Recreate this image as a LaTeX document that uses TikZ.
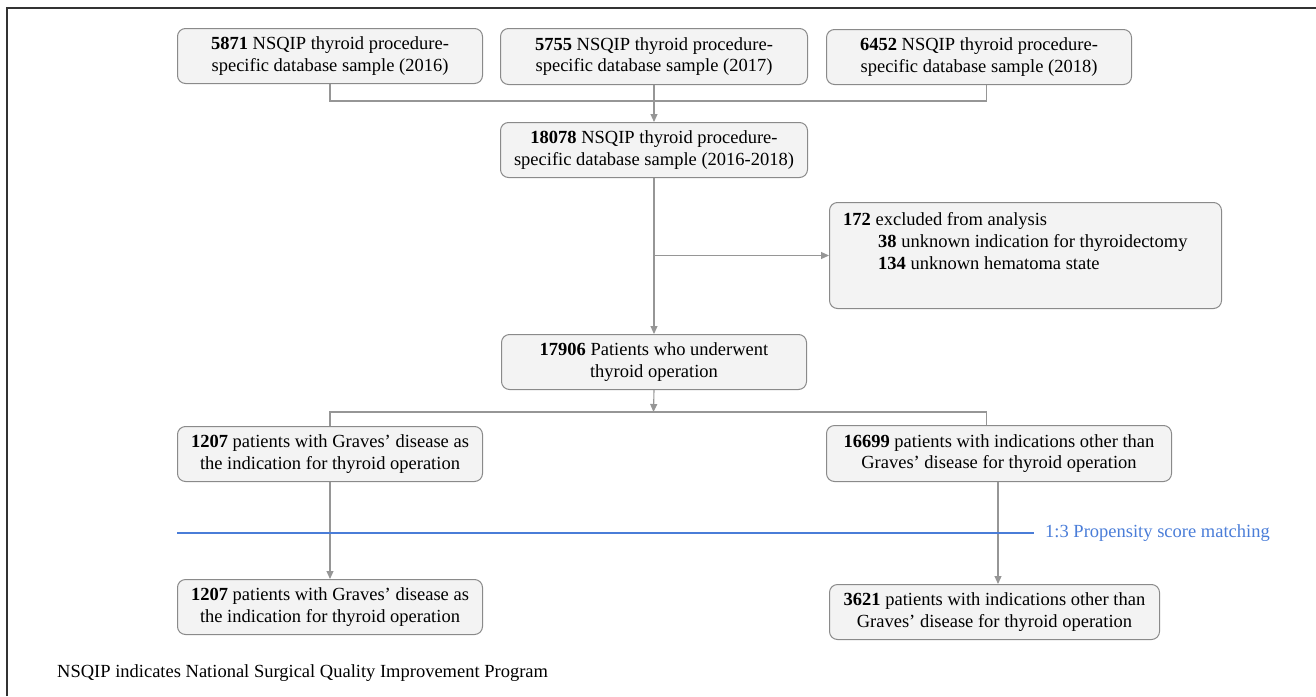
\documentclass[tikz,border=0pt]{standalone}
\usepackage{fontspec}
\setmainfont{Liberation Serif}
\usetikzlibrary{arrows.meta,calc}
\definecolor{boxfill}{HTML}{F3F3F3}
\definecolor{boxdraw}{HTML}{8A8A8A}
\definecolor{linecol}{HTML}{969696}
\definecolor{psm}{HTML}{4A7DD8}
\definecolor{framecol}{HTML}{333333}
\tikzset{
  box/.style={draw=boxdraw, fill=boxfill, line width=1pt, rounded corners=8pt,
    anchor=north west, inner sep=0pt, align=center,
    font=\fontsize{18.5}{21.5}\selectfont},
  conn/.style={draw=linecol, line width=1.1pt},
  arr/.style={conn, -{Triangle[length=8pt,width=7pt]}},
  plain/.style={inner sep=0pt, font=\fontsize{18.5}{22}\selectfont}
}
\begin{document}
\begin{tikzpicture}[x=1pt,y=-1pt]
\useasboundingbox (0,0) rectangle (1316,696);
\draw[framecol, line width=1.5pt] (7,696) -- (7,8) -- (1316,8);

\node[box, minimum width=305pt, minimum height=55pt] (b1) at (177,28)
  {\textbf{5871} NSQIP thyroid procedure-\\specific database sample (2016)};
\node[box, minimum width=307pt, minimum height=56pt] (b2) at (500,28)
  {\textbf{5755} NSQIP thyroid procedure-\\specific database sample (2017)};
\node[box, minimum width=305pt, minimum height=55pt] (b3) at (826,29)
  {\textbf{6452} NSQIP thyroid procedure-\\specific database sample (2018)};
\node[box, minimum width=307pt, minimum height=55pt] (b4) at (500,122)
  {\textbf{18078} NSQIP thyroid procedure-\\specific database sample (2016-2018)};
\node[box, minimum width=392pt, minimum height=106pt] (ex) at (829,202) {};
\node[plain, anchor=north west, align=left] (extext) at (843,212)
  {\textbf{172} excluded from analysis\\
   \hspace*{35pt}\textbf{38} unknown indication for thyroidectomy\\
   \hspace*{35pt}\textbf{134} unknown hematoma state};
\node[box, minimum width=305pt, minimum height=55pt] (b5) at (501,334)
  {\textbf{17906} Patients who underwent\\thyroid operation};
\node[box, minimum width=305pt, minimum height=55pt] (b6) at (177,426)
  {\textbf{1207} patients with Graves’ disease as\\the indication for thyroid operation};
\node[box, minimum width=345pt, minimum height=56pt] (b7) at (826,425)
  {\textbf{16699} patients with indications other than\\Graves’ disease for thyroid operation};
\node[box, minimum width=305pt, minimum height=55pt] (b8) at (177,579)
  {\textbf{1207} patients with Graves’ disease as\\the indication for thyroid operation};
\node[box, minimum width=330pt, minimum height=55pt] (b9) at (829,584)
  {\textbf{3621} patients with indications other than\\Graves’ disease for thyroid operation};

% merge of the three yearly samples
\coordinate (j1) at (653.5,101);
\draw[conn] (b1.south) |- (j1) -| ([xshift=7.5pt]b3.south);
\draw[arr] (b2.south) -- (b4.north);
% main line and exclusion
\draw[arr] (b4.south) -- (b5.north);
\draw[arr] (b4.south |- ex.west) -- (ex.west);
% split
\coordinate (j2) at (653.5,412);
\draw[arr] (b5.south) -- (j2);
\draw[conn] (b6.north) |- (j2) -| ([xshift=-12.5pt]b7.north);
% matching
\draw[arr] (b6.south) -- (b8.north);
\coordinate (c7) at (998,481);
\draw[arr] (b7.south -| c7) -- (b9.north -| c7);

\node[plain, anchor=west, text=psm] (psmtext) at (1045,533) {1:3 Propensity score matching};
\coordinate (psmstart) at (177,533);
\draw[draw=psm, line width=1.1pt] (psmstart) -- ([xshift=-11pt]psmtext.west);

\node[plain, anchor=west] (foot) at (57,673) {NSQIP indicates National Surgical Quality Improvement Program};
\end{tikzpicture}
\end{document}
